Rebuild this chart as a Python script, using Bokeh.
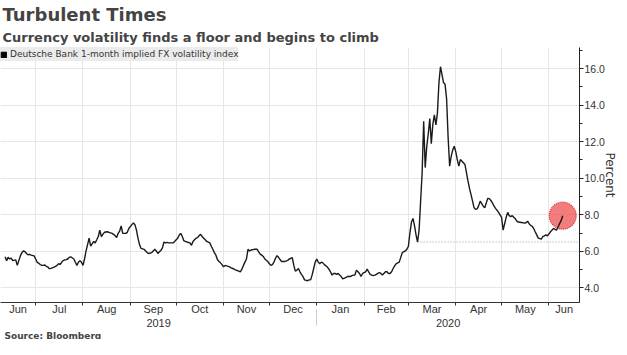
import pandas as pd
from bokeh.plotting import figure
from bokeh.models import (Range1d, LinearAxis, FixedTicker, Title, Legend, LegendItem,
                          PrintfTickFormatter, ColumnDataSource)
from bokeh.embed import file_html
from bokeh.resources import INLINE

series_name = "Deutsche Bank 1-month implied FX volatility index"

dates = [
    # Jun 2019
    "2019-06-11", "2019-06-12", "2019-06-13", "2019-06-14", "2019-06-15", "2019-06-16",
    "2019-06-18", "2019-06-19", "2019-06-20", "2019-06-21", "2019-06-22", "2019-06-23",
    "2019-06-24", "2019-06-25", "2019-06-26", "2019-06-27", "2019-06-28", "2019-06-30",
    # Jul 2019
    "2019-07-01", "2019-07-02", "2019-07-03", "2019-07-04", "2019-07-05", "2019-07-06",
    "2019-07-07", "2019-07-08", "2019-07-09", "2019-07-10", "2019-07-11", "2019-07-13",
    "2019-07-14", "2019-07-15", "2019-07-16", "2019-07-17", "2019-07-18", "2019-07-19",
    "2019-07-20", "2019-07-21", "2019-07-22", "2019-07-23", "2019-07-24", "2019-07-26",
    "2019-07-27", "2019-07-28", "2019-07-29", "2019-07-30", "2019-07-31",
    # Aug 2019
    "2019-08-01", "2019-08-02", "2019-08-03", "2019-08-04", "2019-08-05", "2019-08-06",
    "2019-08-08", "2019-08-09", "2019-08-10", "2019-08-11", "2019-08-12", "2019-08-13",
    "2019-08-14", "2019-08-15", "2019-08-17", "2019-08-18", "2019-08-20", "2019-08-21",
    "2019-08-22", "2019-08-23", "2019-08-24", "2019-08-25", "2019-08-26", "2019-08-27",
    "2019-08-28", "2019-08-29", "2019-08-30", "2019-08-31",
    # Sep 2019
    "2019-09-02", "2019-09-03", "2019-09-04", "2019-09-05", "2019-09-06", "2019-09-07",
    "2019-09-08", "2019-09-10", "2019-09-11", "2019-09-12", "2019-09-13", "2019-09-15",
    "2019-09-16", "2019-09-17", "2019-09-18", "2019-09-19", "2019-09-20", "2019-09-21",
    "2019-09-22", "2019-09-23", "2019-09-24", "2019-09-25", "2019-09-26", "2019-09-28",
    "2019-09-29", "2019-09-30",
    # Oct 2019
    "2019-10-01", "2019-10-02", "2019-10-03", "2019-10-04", "2019-10-05", "2019-10-06",
    "2019-10-07", "2019-10-08", "2019-10-10", "2019-10-11", "2019-10-12", "2019-10-13",
    "2019-10-14", "2019-10-15", "2019-10-16", "2019-10-17", "2019-10-18", "2019-10-19",
    "2019-10-20", "2019-10-21", "2019-10-23", "2019-10-24", "2019-10-25", "2019-10-26",
    "2019-10-27", "2019-10-28", "2019-10-29", "2019-10-30", "2019-10-31",
    # Nov 2019
    "2019-11-01", "2019-11-02", "2019-11-03", "2019-11-05", "2019-11-06", "2019-11-07",
    "2019-11-08", "2019-11-09", "2019-11-10", "2019-11-11", "2019-11-12", "2019-11-13",
    "2019-11-14", "2019-11-15", "2019-11-16", "2019-11-17", "2019-11-18", "2019-11-19",
    "2019-11-21", "2019-11-22", "2019-11-23", "2019-11-24", "2019-11-25", "2019-11-26",
    "2019-11-27", "2019-11-28", "2019-11-30",
    # Dec 2019
    "2019-12-01", "2019-12-02", "2019-12-03", "2019-12-04", "2019-12-05", "2019-12-06",
    "2019-12-07", "2019-12-08", "2019-12-09", "2019-12-10", "2019-12-11", "2019-12-13",
    "2019-12-14", "2019-12-15", "2019-12-16", "2019-12-17", "2019-12-18", "2019-12-19",
    "2019-12-20", "2019-12-21", "2019-12-22", "2019-12-23", "2019-12-24", "2019-12-26",
    "2019-12-27", "2019-12-28", "2019-12-29", "2019-12-30", "2019-12-31",
    # Jan 2020
    "2020-01-01", "2020-01-02", "2020-01-03", "2020-01-04", "2020-01-05", "2020-01-06",
    "2020-01-08", "2020-01-09", "2020-01-10", "2020-01-11", "2020-01-12", "2020-01-13",
    "2020-01-14", "2020-01-15", "2020-01-16", "2020-01-17", "2020-01-18", "2020-01-20",
    "2020-01-21", "2020-01-22", "2020-01-23", "2020-01-24", "2020-01-25", "2020-01-26",
    "2020-01-27", "2020-01-28", "2020-01-29", "2020-01-30", "2020-01-31",
    # Feb 2020
    "2020-02-02", "2020-02-03", "2020-02-04", "2020-02-05", "2020-02-06", "2020-02-07",
    "2020-02-08", "2020-02-09", "2020-02-10", "2020-02-11", "2020-02-12", "2020-02-13",
    "2020-02-15", "2020-02-16", "2020-02-17", "2020-02-18", "2020-02-19", "2020-02-20",
    "2020-02-21", "2020-02-22", "2020-02-23", "2020-02-24", "2020-02-25", "2020-02-26",
    "2020-02-28", "2020-02-29",
    # Mar 2020
    "2020-03-01", "2020-03-02", "2020-03-03", "2020-03-04", "2020-03-05", "2020-03-06",
    "2020-03-07", "2020-03-08", "2020-03-09", "2020-03-10", "2020-03-11", "2020-03-12",
    "2020-03-13", "2020-03-14", "2020-03-15", "2020-03-16", "2020-03-17", "2020-03-18",
    "2020-03-19", "2020-03-20", "2020-03-21", "2020-03-22", "2020-03-23", "2020-03-24",
    "2020-03-25", "2020-03-26", "2020-03-27", "2020-03-28", "2020-03-29", "2020-03-30",
    "2020-03-31",
    # Apr 2020
    "2020-04-01", "2020-04-02", "2020-04-03", "2020-04-04", "2020-04-06", "2020-04-07",
    "2020-04-08", "2020-04-09", "2020-04-10", "2020-04-11", "2020-04-12", "2020-04-13",
    "2020-04-14", "2020-04-15", "2020-04-16", "2020-04-17", "2020-04-19", "2020-04-20",
    "2020-04-21", "2020-04-22", "2020-04-23", "2020-04-24", "2020-04-25", "2020-04-26",
    "2020-04-27", "2020-04-28", "2020-04-29",
    # May 2020
    "2020-05-01", "2020-05-02", "2020-05-03", "2020-05-04", "2020-05-05", "2020-05-06",
    "2020-05-07", "2020-05-08", "2020-05-09", "2020-05-10", "2020-05-11", "2020-05-12",
    "2020-05-14", "2020-05-15", "2020-05-16", "2020-05-17", "2020-05-18", "2020-05-19",
    "2020-05-20", "2020-05-21", "2020-05-22", "2020-05-23", "2020-05-24", "2020-05-25",
    "2020-05-27", "2020-05-28", "2020-05-29", "2020-05-30", "2020-05-31",
    # Jun 2020
    "2020-06-01", "2020-06-02", "2020-06-03", "2020-06-04", "2020-06-05", "2020-06-06",
    "2020-06-07", "2020-06-09", "2020-06-10",
]

values = [
    # Jun 2019
    5.70, 5.49, 5.67, 5.58, 5.63, 5.49,
    5.53, 5.23, 5.49, 5.75, 5.93, 6.02,
    5.98, 5.88, 5.81, 5.84, 5.79, 5.75,
    # Jul 2019
    5.58, 5.40, 5.35, 5.28, 5.23, 5.23,
    5.25, 5.18, 5.14, 5.05, 5.07, 5.14,
    5.18, 5.23, 5.32, 5.28, 5.40, 5.49,
    5.53, 5.54, 5.58, 5.67, 5.70, 5.58,
    5.40, 5.23, 5.40, 5.49, 5.40,
    # Aug 2019
    5.23, 5.58, 6.02, 6.37, 6.72, 6.28,
    6.54, 6.46, 6.63, 6.81, 7.16, 6.81,
    6.93, 7.04, 7.07, 7.04, 6.98, 6.93,
    6.86, 6.75, 6.98, 7.11, 7.39, 6.98,
    6.98, 6.98, 7.04, 7.25,
    # Sep 2019
    7.46, 7.55, 7.46, 7.16, 6.72, 6.37,
    6.16, 6.11, 6.02, 5.93, 5.88, 5.93,
    6.02, 6.11, 6.02, 5.88, 5.98, 6.05,
    6.19, 6.51, 6.46, 6.49, 6.46, 6.46,
    6.46, 6.54,
    # Oct 2019
    6.63, 6.72, 6.89, 6.98, 6.81, 6.58,
    6.54, 6.51, 6.46, 6.33, 6.54, 6.63,
    6.72, 6.75, 6.86, 6.93, 6.81, 6.72,
    6.63, 6.54, 6.46, 6.28, 6.11, 5.93,
    5.79, 5.55, 5.44, 5.37, 5.27,
    # Nov 2019
    5.15, 5.23, 5.20, 5.15, 5.09, 5.06,
    5.02, 4.97, 4.95, 4.92, 4.88, 5.02,
    5.23, 5.41, 5.58, 6.11, 6.02, 6.07,
    6.11, 6.11, 6.11, 5.97, 5.85, 5.79,
    5.72, 5.58, 5.44,
    # Dec 2019
    5.32, 5.23, 5.27, 5.41, 5.62, 5.76,
    5.67, 5.55, 5.44, 5.44, 5.44, 5.50,
    5.58, 5.62, 5.65, 5.23, 4.92, 4.97,
    5.06, 4.88, 4.74, 4.62, 4.44, 4.39,
    4.44, 4.44, 4.71, 5.06, 5.41,
    # Jan 2020
    5.58, 5.41, 5.32, 5.41, 5.37, 5.27,
    5.14, 5.02, 4.88, 4.70, 4.79, 4.79,
    4.74, 4.79, 4.70, 4.62, 4.49, 4.56,
    4.62, 4.62, 4.62, 4.67, 4.70, 4.70,
    4.97, 4.88, 4.79, 4.62, 4.79,
    # Feb 2020
    4.88, 5.02, 4.88, 4.74, 4.70, 4.67,
    4.70, 4.74, 4.79, 4.84, 4.79, 4.70,
    4.88, 4.88, 4.79, 4.79, 4.88, 5.06,
    5.20, 5.32, 5.37, 5.41, 5.67, 5.93,
    6.02, 6.11,
    # Mar 2020
    6.28, 7.00, 7.60, 7.80, 7.40, 6.90,
    6.51, 7.16, 8.74, 10.31, 13.12, 10.58,
    11.72, 12.42, 13.26, 11.89, 12.95, 13.47,
    12.91, 13.56, 15.23, 16.10, 15.66, 15.23,
    15.14, 14.35, 12.24, 10.66, 11.19, 11.54,
    11.75,
    # Apr 2020
    11.45, 11.02, 10.66, 11.02, 10.84, 10.75,
    10.31, 9.85, 9.44, 9.10, 8.75, 8.38,
    8.30, 8.32, 8.50, 8.74, 8.47, 8.38,
    8.65, 8.90, 8.88, 8.78, 8.65, 8.48,
    8.35, 8.25, 8.13,
    # May 2020
    7.86, 7.16, 7.51, 7.86, 8.13, 7.95,
    7.90, 7.95, 7.86, 7.78, 7.65, 7.60,
    7.58, 7.56, 7.55, 7.56, 7.65, 7.51,
    7.42, 7.37, 7.25, 7.07, 6.90, 6.72,
    6.67, 6.81, 6.85, 6.90, 6.85,
    # Jun 2020
    6.95, 7.07, 7.16, 7.25, 7.20, 7.16,
    7.34, 7.69, 7.95,
]

if len(dates) != len(values):
    raise ValueError("dates/values length mismatch: %d vs %d" % (len(dates), len(values)))

month_labels = ["Jun", "Jul", "Aug", "Sep", "Oct", "Nov", "Dec",
                "Jan", "Feb", "Mar", "Apr", "May", "Jun"]
month_starts = ["2019-07-01", "2019-08-01", "2019-09-01", "2019-10-01", "2019-11-01",
                "2019-12-01", "2020-01-01", "2020-02-01", "2020-03-01", "2020-04-01",
                "2020-05-01", "2020-06-01"]
year_labels = ["2019", "2020"]
year_break = "2020-01-01"
y_major = [4, 6, 8, 10, 12, 14, 16]
y_minor = [5, 7, 9, 11, 13, 15, 17]

x_start = pd.Timestamp("2019-06-08")
x_end = pd.Timestamp("2020-06-21")
y_lo, y_hi = 3.2, 17.15


def ms(t):
    return int(pd.Timestamp(t).value // 10**6)


dt = pd.to_datetime(dates)
src = ColumnDataSource(dict(x=dt, y=values))

bounds = [ms(x_start)] + [ms(m) for m in month_starts] + [ms(x_end)]
month_mid = [(bounds[i] + bounds[i + 1]) // 2 for i in range(len(bounds) - 1)]
year_mid = [(ms(x_start) + ms(year_break)) // 2, (ms(year_break) + ms(x_end)) // 2]

FONT = "DejaVu Sans"
TICKFONT = "Liberation Sans"

p = figure(width=619, height=339, output_backend="svg", toolbar_location=None,
           x_range=Range1d(ms(x_start), ms(x_end)), y_range=Range1d(y_lo, y_hi),
           x_axis_location=None, y_axis_location="right",
           min_border_left=0, min_border_right=0, min_border_top=0, min_border_bottom=0)
p.outline_line_color = None
p.background_fill_color = "white"
p.border_fill_color = "white"

# grids
p.xgrid.ticker = FixedTicker(ticks=[ms(m) for m in month_starts])
p.xgrid.grid_line_color = "#e6e6e6"
p.ygrid.grid_line_color = "#e6e6e6"

# right axis
ya = p.yaxis[0]
ya.ticker = FixedTicker(ticks=y_major, minor_ticks=y_minor)
ya.formatter = PrintfTickFormatter(format="%.1f")
ya.axis_line_color = "#222222"
ya.major_tick_line_color = "#222222"
ya.minor_tick_line_color = "#222222"
ya.major_tick_in = 0
ya.major_tick_out = 4
ya.minor_tick_in = 0
ya.minor_tick_out = 3
ya.major_label_text_font = TICKFONT
ya.major_label_text_font_size = "10.5px"
ya.major_label_text_color = "#333333"
ya.major_label_standoff = 1
ya.axis_label = "Percent"
ya.axis_label_text_font = FONT
ya.axis_label_text_font_size = "12px"
ya.axis_label_text_font_style = "normal"
ya.axis_label_text_color = "#333333"
ya.axis_label_text_line_height = 0.8
ya.axis_label_standoff = -5

# bottom month axis
ax_m = LinearAxis(ticker=FixedTicker(ticks=month_mid, minor_ticks=[ms(m) for m in month_starts]),
                  major_label_overrides={k: v for k, v in zip(month_mid, month_labels)},
                  axis_line_color="#333333", major_tick_line_color=None, major_tick_out=0,
                  major_tick_in=0,
                  minor_tick_line_color="#333333", minor_tick_in=0, minor_tick_out=3,
                  major_label_standoff=-3, major_label_text_font=TICKFONT,
                  major_label_text_font_size="11px", major_label_text_color="#333333")
p.add_layout(ax_m, "below")

ax_y = LinearAxis(ticker=FixedTicker(ticks=year_mid, minor_ticks=[ms(year_break)]),
                  major_label_overrides={k: v for k, v in zip(year_mid, year_labels)},
                  axis_line_color=None, major_tick_line_color=None, major_tick_out=0,
                  major_tick_in=0,
                  minor_tick_line_color="#cccccc", minor_tick_in=8, minor_tick_out=8,
                  major_label_standoff=-7, major_label_text_font=TICKFONT,
                  major_label_text_font_size="11px", major_label_text_color="#333333")
p.add_layout(ax_y, "below")

p.add_layout(Title(text="Source: Bloomberg", align="left", text_font=FONT,
                   text_font_size="9px", text_font_style="bold", standoff=-2, offset=4), "below")

# titles (later added = further from frame)
p.add_layout(Title(text="Currency volatility finds a floor and begins to climb", align="left",
                   text_font=FONT, text_font_size="13px", text_font_style="bold",
                   standoff=5, offset=2), "above")
p.add_layout(Title(text="Turbulent Times", align="left", text_font=FONT,
                   text_font_size="18px", text_font_style="bold", standoff=2, offset=2), "above")

# floor line from the pre-spike low to the right edge
peak = max(range(len(values)), key=lambda i: values[i])
floor_idx = min(range(peak - 20, peak), key=lambda i: values[i])
p.segment(x0=[dt[floor_idx]], y0=[values[floor_idx]], x1=[x_end], y1=[values[floor_idx]],
          line_color="#999999", line_dash="1 2", line_width=1)

# highlight circle at the latest value
p.scatter(x=[dt[-1]], y=[values[-1]], size=27, marker="circle", fill_color="#ee4444",
          fill_alpha=0.7, line_color="#d42a2a", line_dash="1 1", line_width=1.2)

p.line("x", "y", source=src, line_color="#1a1a1a", line_width=1.4)

# legend swatch: a renderer with one undrawn (NaN) row so the legend can draw its square
nan = float("nan")
sq = p.quad(left=[nan], right=[nan], top=[nan], bottom=[nan],
            fill_color="#000000", line_color="#000000")
leg = Legend(items=[LegendItem(label=series_name, renderers=[sq])], location="top_left",
             background_fill_color="#ebebeb", background_fill_alpha=1.0,
             border_line_color=None, label_text_font=FONT, label_text_font_size="9px",
             label_text_color="#333333", glyph_width=7, glyph_height=7, label_standoff=3,
             padding=3, margin=0, spacing=0, label_height=14)
p.add_layout(leg)

open("out.html", "w").write(file_html(p, INLINE))
